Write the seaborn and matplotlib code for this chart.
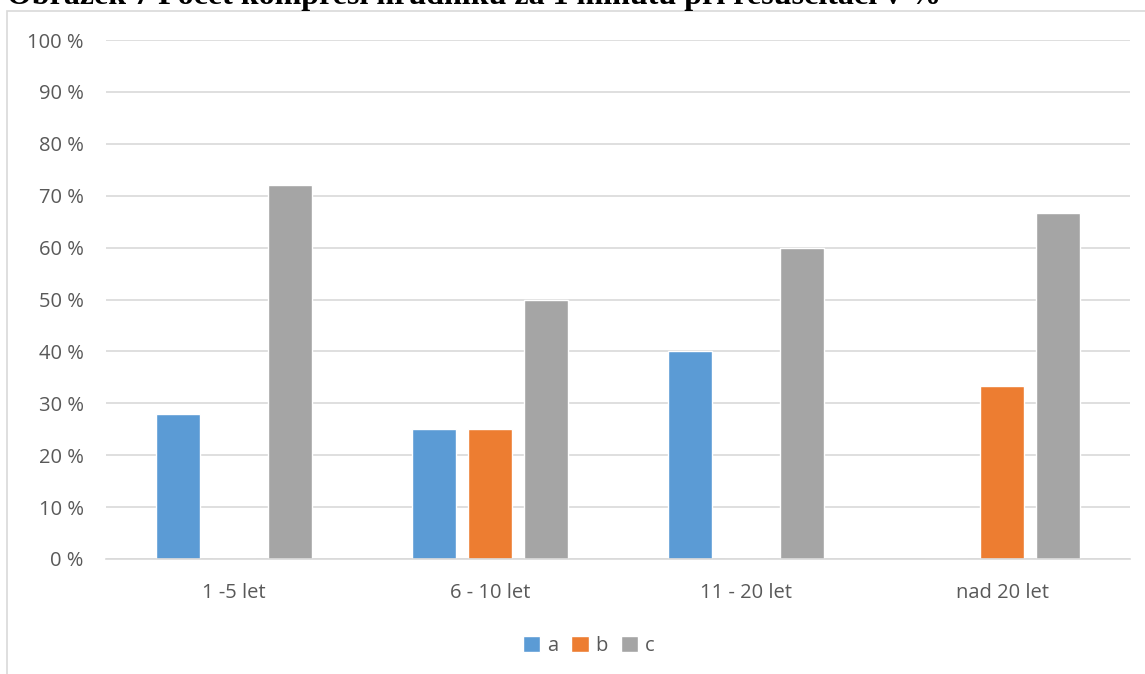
import matplotlib
matplotlib.use("Agg")
import matplotlib.pyplot as plt
from matplotlib.patches import Rectangle
from matplotlib.ticker import FuncFormatter, MultipleLocator
import seaborn as sns
import pandas as pd

categories = ["1 -5 let", "6 - 10 let", "11 - 20 let", "nad 20 let"]
series_names = ["a", "b", "c"]
values_a = [28.0, 25.0, 40.0, 0.0]
values_b = [0.0, 25.0, 0.0, 33.3]
values_c = [72.0, 50.0, 60.0, 66.7]
colors = ["#5b9bd5", "#ed7d31", "#a5a5a5"]
title = "Obrázek 7 Počet kompresí hrudníku za 1 minutu při resuscitaci v %"

df = pd.DataFrame({
    "kategorie": categories * 3,
    "serie": [s for s in series_names for _ in categories],
    "hodnota": values_a + values_b + values_c,
})

sns.set_theme(style="white")
plt.rcParams["font.family"] = ["Open Sans", "DejaVu Sans"]

W, H = 1145, 674
fig = plt.figure(figsize=(W / 100, H / 100), dpi=100)
ax = fig.add_axes([106 / W, 1 - 559 / H, (1130 - 106) / W, (559 - 40) / H])

sns.barplot(data=df, x="kategorie", y="hodnota", hue="serie",
            palette=colors, width=0.656, gap=0.2, ax=ax,
            saturation=1, legend=True)

ax.set_ylim(0, 100)
ax.set_xlim(-0.5, 3.5)
ax.yaxis.set_major_locator(MultipleLocator(10))
ax.yaxis.set_major_formatter(FuncFormatter(lambda v, p: f"{int(v)} %"))
ax.grid(axis="y", color="#d9d9d9", linewidth=1.2)
ax.set_axisbelow(True)
for side in ["top", "right", "left"]:
    ax.spines[side].set_visible(False)
ax.spines["bottom"].set_color("#d9d9d9")
ax.spines["bottom"].set_linewidth(1.2)
ax.tick_params(axis="both", length=0, labelsize=14.5, colors="#595959")
ax.tick_params(axis="y", pad=16)
ax.tick_params(axis="x", pad=17)
ax.set_xlabel("")
ax.set_ylabel("")

ax.legend(loc="center", bbox_to_anchor=(589 / W, 1 - 646 / H),
          bbox_transform=fig.transFigure, ncol=3, frameon=False,
          fontsize=14.5, labelcolor="#595959", handlelength=0.85,
          handleheight=0.85, handletextpad=0.35, columnspacing=0.65)

# outer chart frame
fig.patches.append(Rectangle((7 / W, -0.05), 1.2, 1 - 11 / H + 0.05,
                             transform=fig.transFigure, fill=False,
                             edgecolor="#d9d9d9", linewidth=1.2))

fig.text(7 / W, 1 - 4 / H, title, family="Liberation Serif",
         weight="bold", fontsize=23, color="black", va="baseline", ha="left")

fig.savefig("out.png", dpi=100)
